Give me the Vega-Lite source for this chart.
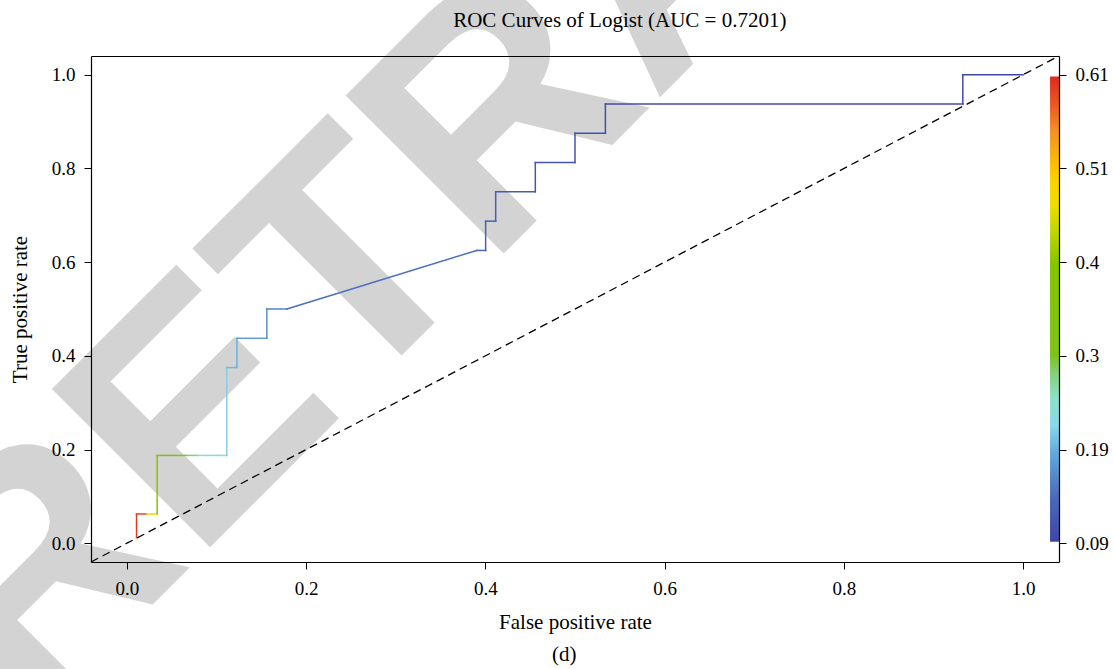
{
  "$schema": "https://vega.github.io/schema/vega-lite/v6.json",
  "autosize": {"type": "none"},
  "padding": {"left": 91, "top": 56, "right": 54, "bottom": 107},
  "width": 968,
  "height": 506,
  "background": "white",
  "view": {"stroke": null},
  "config": {
    "axis": {
      "grid": false,
      "labelFont": "Liberation Serif",
      "labelFontSize": 19,
      "labelColor": "black",
      "titleFont": "Liberation Serif",
      "titleFontSize": 21,
      "titleFontWeight": "normal",
      "titleColor": "black",
      "domainColor": "black",
      "domainWidth": 1.2,
      "tickColor": "black",
      "tickWidth": 1,
      "tickSize": 7,
      "zindex": 1
    }
  },
  "datasets": {
    "watermark": [{"x": 0.681, "y": 1.117, "label": "RETRACTED"}],
    "texts": [
      {"x": 0.488, "y": -0.251, "label": "(d)", "kind": "caption"},
      {"x": 0.550, "y": 1.1025, "label": "ROC Curves of Logist (AUC = 0.7201)", "kind": "title"}
    ],
    "diagonal": [{"x": -0.04, "y": -0.04, "x2": 1.04, "y2": 1.04}],
    "colorbar": [{"x": 1.03, "x2": 1.04, "y": 0.003, "y2": 0.996}],
    "roc": [
      {"x": 0.0108, "y": 0.012, "x2": 0.0108, "y2": 0.0625, "t": 0.600},
      {"x": 0.0108, "y": 0.0625, "x2": 0.0222, "y2": 0.0625, "t": 0.590},
      {"x": 0.0222, "y": 0.0625, "x2": 0.0338, "y2": 0.0625, "t": 0.475},
      {"x": 0.0338, "y": 0.0625, "x2": 0.0338, "y2": 0.1875, "t": 0.330},
      {"x": 0.0338, "y": 0.1875, "x2": 0.0670, "y2": 0.1875, "t": 0.310},
      {"x": 0.0670, "y": 0.1875, "x2": 0.0787, "y2": 0.1875, "t": 0.280},
      {"x": 0.0787, "y": 0.1875, "x2": 0.0899, "y2": 0.1875, "t": 0.255},
      {"x": 0.0899, "y": 0.1875, "x2": 0.1011, "y2": 0.1875, "t": 0.235},
      {"x": 0.1011, "y": 0.1875, "x2": 0.1115, "y2": 0.1875, "t": 0.225},
      {"x": 0.1115, "y": 0.1875, "x2": 0.1115, "y2": 0.375, "t": 0.215},
      {"x": 0.1115, "y": 0.375, "x2": 0.1228, "y2": 0.375, "t": 0.200},
      {"x": 0.1228, "y": 0.375, "x2": 0.1228, "y2": 0.4375, "t": 0.195},
      {"x": 0.1228, "y": 0.4375, "x2": 0.1562, "y2": 0.4375, "t": 0.180},
      {"x": 0.1562, "y": 0.4375, "x2": 0.1562, "y2": 0.5, "t": 0.170},
      {"x": 0.1562, "y": 0.5, "x2": 0.1785, "y2": 0.5, "t": 0.160},
      {"x": 0.1785, "y": 0.5, "x2": 0.3903, "y2": 0.625, "t": 0.145},
      {"x": 0.3903, "y": 0.625, "x2": 0.4003, "y2": 0.625, "t": 0.135},
      {"x": 0.4003, "y": 0.625, "x2": 0.4003, "y2": 0.6875, "t": 0.130},
      {"x": 0.4003, "y": 0.6875, "x2": 0.4115, "y2": 0.6875, "t": 0.128},
      {"x": 0.4115, "y": 0.6875, "x2": 0.4115, "y2": 0.75, "t": 0.125},
      {"x": 0.4115, "y": 0.75, "x2": 0.4557, "y2": 0.75, "t": 0.120},
      {"x": 0.4557, "y": 0.75, "x2": 0.4557, "y2": 0.8125, "t": 0.117},
      {"x": 0.4557, "y": 0.8125, "x2": 0.5, "y2": 0.8125, "t": 0.113},
      {"x": 0.5, "y": 0.8125, "x2": 0.5, "y2": 0.875, "t": 0.110},
      {"x": 0.5, "y": 0.875, "x2": 0.5339, "y2": 0.875, "t": 0.107},
      {"x": 0.5339, "y": 0.875, "x2": 0.5339, "y2": 0.9375, "t": 0.104},
      {"x": 0.5339, "y": 0.9375, "x2": 0.9327, "y2": 0.9375, "t": 0.100},
      {"x": 0.9327, "y": 0.9375, "x2": 0.9327, "y2": 1.0, "t": 0.095},
      {"x": 0.9327, "y": 1.0, "x2": 1.0, "y2": 1.0, "t": 0.090}
    ]
  },
  "layer": [
    {
      "data": {"name": "watermark"},
      "mark": {"type": "text", "font": "Liberation Sans", "fontWeight": "bold", "fontSize": 325, "angle": 315, "align": "center", "baseline": "alphabetic", "fill": "#d3d3d3", "clip": false},
      "encoding": {
        "x": {"field": "x", "type": "quantitative", "scale": {"domain": [-0.04, 1.04], "nice": false, "zero": false},
              "axis": {"values": [0, 0.2, 0.4, 0.6, 0.8, 1.0], "format": ".1f", "title": "False positive rate", "labelPadding": 10, "titlePadding": 13, "domain": true, "zindex": 2}},
        "y": {"field": "y", "type": "quantitative", "scale": {"domain": [-0.04, 1.04], "nice": false, "zero": false},
              "axis": {"values": [0, 0.2, 0.4, 0.6, 0.8, 1.0], "format": ".1f", "title": "True positive rate", "labelPadding": 9, "titlePadding": 21, "domain": true, "zindex": 2}},
        "text": {"field": "label"}
      }
    },
    {
      "data": {"name": "texts"},
      "mark": {"type": "text", "font": "Liberation Serif", "fontSize": 21, "align": "center", "baseline": "alphabetic", "color": "black", "clip": false},
      "encoding": {
        "x": {"field": "x", "type": "quantitative", "axis": null},
        "y": {"field": "y", "type": "quantitative", "axis": null},
        "text": {"field": "label"}
      }
    },
    {
      "data": {"name": "diagonal"},
      "mark": {"type": "rule", "color": "black", "strokeWidth": 1.3, "strokeDash": [8, 5]},
      "encoding": {
        "x": {"field": "x", "type": "quantitative", "axis": null},
        "y": {"field": "y", "type": "quantitative", "axis": null},
        "x2": {"field": "x2"},
        "y2": {"field": "y2"}
      }
    },
    {
      "data": {"name": "roc"},
      "mark": {"type": "rule", "strokeWidth": 1.5, "strokeCap": "square"},
      "encoding": {
        "x": {"field": "x", "type": "quantitative", "axis": null},
        "y": {"field": "y", "type": "quantitative", "axis": null},
        "x2": {"field": "x2"},
        "y2": {"field": "y2"},
        "color": {
          "field": "t", "type": "quantitative", "legend": null,
          "scale": {
            "domain": [0.09, 0.1368, 0.1888, 0.22, 0.2512, 0.2772, 0.298, 0.402, 0.4332, 0.4644, 0.4904, 0.506, 0.5476, 0.584, 0.61],
            "range": ["#4046a6", "#4966b8", "#62a8dc", "#8ad6ea", "#8ee0c8", "#86d080", "#7ec21c", "#86c400", "#bcd400", "#eade00", "#fad400", "#fcc400", "#f49224", "#e85022", "#e02a20"],
            "interpolate": "rgb"
          }
        }
      }
    },
    {
      "data": {"name": "colorbar"},
      "mark": {
        "type": "rect",
        "fill": {
          "gradient": "linear", "x1": 0, "y1": 1, "x2": 0, "y2": 0,
          "stops": [
            {"offset": 0, "color": "#4046a6"},
            {"offset": 0.09, "color": "#4966b8"},
            {"offset": 0.19, "color": "#62a8dc"},
            {"offset": 0.25, "color": "#8ad6ea"},
            {"offset": 0.31, "color": "#8ee0c8"},
            {"offset": 0.36, "color": "#86d080"},
            {"offset": 0.40, "color": "#7ec21c"},
            {"offset": 0.60, "color": "#86c400"},
            {"offset": 0.66, "color": "#bcd400"},
            {"offset": 0.72, "color": "#eade00"},
            {"offset": 0.77, "color": "#fad400"},
            {"offset": 0.80, "color": "#fcc400"},
            {"offset": 0.88, "color": "#f49224"},
            {"offset": 0.95, "color": "#e85022"},
            {"offset": 1, "color": "#e02a20"}
          ]
        }
      },
      "encoding": {
        "x": {"field": "x", "type": "quantitative", "scale": {"domain": [-0.04, 1.04], "nice": false, "zero": false},
              "axis": {"orient": "top", "labels": false, "ticks": false, "title": null, "domain": true, "zindex": 2}},
        "x2": {"field": "x2"},
        "y": {"field": "y", "type": "quantitative", "scale": {"domain": [-0.04, 1.04], "nice": false, "zero": false},
              "axis": {"orient": "right", "values": [0, 0.2, 0.4, 0.6, 0.8, 1.0], "labelExpr": "['0.09','0.19','0.3','0.4','0.51','0.61'][round(datum.value*5)]", "title": null, "labelPadding": 9, "domain": true, "zindex": 2}},
        "y2": {"field": "y2"}
      }
    }
  ],
  "resolve": {"axis": {"x": "independent", "y": "independent"}}
}
